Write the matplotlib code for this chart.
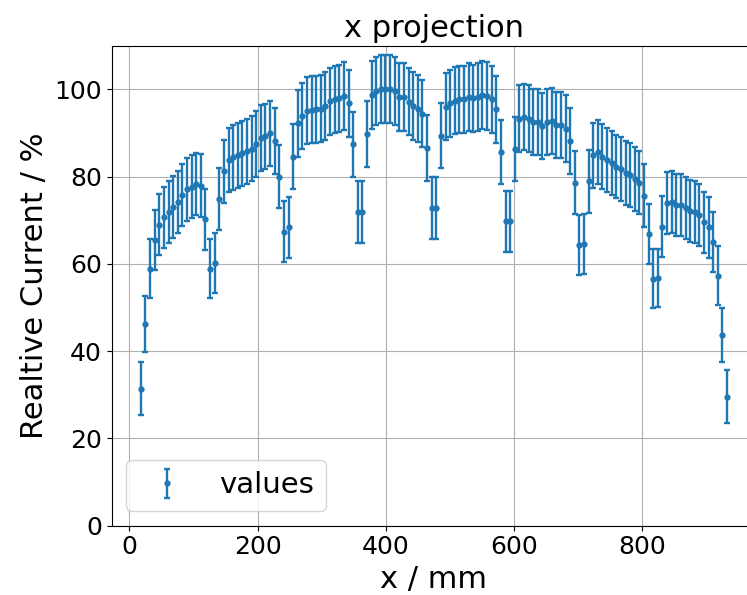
import numpy as np
import matplotlib.pyplot as plt

# scan positions along x (mm), evenly spaced
X_START = 18.0
X_STEP = 7.2

current = [
    31.4, 46.3, 58.9, 65.5, 69.0, 70.7, 71.8, 73.0, 74.2, 75.8, 77.1, 77.7,
    78.3, 77.9, 70.2, 58.9, 60.2, 74.8, 81.2, 83.8, 84.4, 84.9, 85.3, 85.8,
    86.4, 87.5, 88.8, 89.2, 89.9, 88.2, 80.0,
    67.4, 68.4, 84.6, 92.2, 93.9, 95.1, 95.3, 95.4, 95.6, 96.2, 97.3, 97.7,
    97.9, 98.5, 96.8, 87.4, 71.8, 71.8, 89.8, 98.6, 99.7, 100.0, 100.1, 100.0,
    99.7, 98.3, 98.2, 97.2, 96.2, 95.6, 94.4, 86.6,
    72.7, 72.7, 89.4, 96.0, 96.8, 97.4, 97.7, 97.7, 98.2, 97.9, 98.3, 98.7,
    98.5, 97.7, 95.4, 85.6, 69.8, 69.8, 86.3, 93.3, 93.7, 93.3, 92.5, 92.5,
    91.6, 92.5, 92.7, 91.8, 91.8, 91.0, 88.2, 78.6, 64.3,
    64.6, 78.9, 84.9, 85.6, 84.6, 83.8, 83.1, 82.3, 81.8, 80.9, 80.3, 79.5,
    78.6, 75.6, 66.9, 56.6, 56.8, 68.5, 73.9, 74.2, 73.6, 73.4, 72.8, 72.1,
    71.8, 71.2, 69.5, 68.4, 65.0, 57.3, 43.7, 29.6,
]

current_err = [
    6.0, 6.4, 6.7, 6.9, 7.0, 7.0, 7.1, 7.1, 7.1, 7.2, 7.2, 7.2,
    7.2, 7.2, 7.0, 6.7, 6.8, 7.1, 7.3, 7.4, 7.4, 7.4, 7.4, 7.4,
    7.4, 7.5, 7.5, 7.5, 7.5, 7.5, 7.3,
    6.9, 7.0, 7.4, 7.6, 7.6, 7.7, 7.7, 7.7, 7.7, 7.7, 7.7, 7.7,
    7.7, 7.8, 7.7, 7.5, 7.1, 7.1, 7.5, 7.8, 7.8, 7.8, 7.8, 7.8,
    7.8, 7.8, 7.8, 7.7, 7.7, 7.7, 7.7, 7.5,
    7.1, 7.1, 7.5, 7.7, 7.7, 7.7, 7.7, 7.7, 7.8, 7.7, 7.8, 7.8,
    7.8, 7.7, 7.7, 7.4, 7.0, 7.0, 7.4, 7.6, 7.6, 7.6, 7.6, 7.6,
    7.6, 7.6, 7.6, 7.6, 7.6, 7.6, 7.5, 7.2, 6.9,
    6.9, 7.3, 7.4, 7.4, 7.4, 7.4, 7.4, 7.3, 7.3, 7.3, 7.3, 7.3,
    7.2, 7.2, 6.9, 6.7, 6.7, 7.0, 7.1, 7.1, 7.1, 7.1, 7.1, 7.1,
    7.1, 7.1, 7.0, 7.0, 6.9, 6.7, 6.3, 6.0,
]

x = X_START + X_STEP * np.arange(len(current))

fig = plt.figure(figsize=(7.47, 5.95), dpi=100)
ax = fig.add_axes([0.1493, 0.1165, 0.8633, 0.8067])

ax.errorbar(x, current, yerr=current_err, fmt='o', markersize=3.5,
            elinewidth=1.7, capsize=2, capthick=1.7, label='values')

ax.set_ylim(0, 110)
ax.set_title('x projection', fontsize=22)
ax.set_xlabel('x / mm', fontsize=22)
ax.set_ylabel('Realtive Current / %', fontsize=22)
ax.tick_params(labelsize=18)
ax.grid(True)
ax.legend(loc='lower left', fontsize=21)

fig.savefig('out.png', dpi=100)
